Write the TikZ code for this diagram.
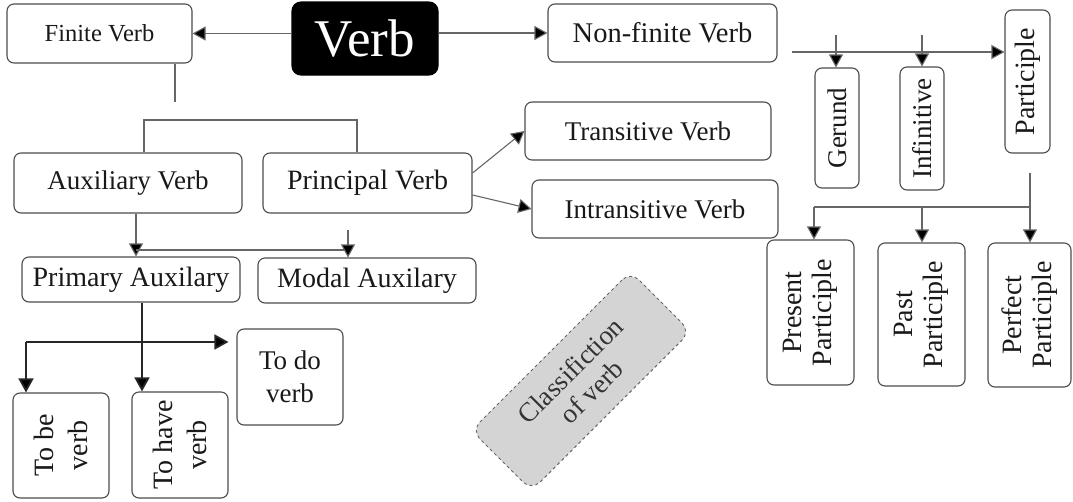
\documentclass[tikz,border=0pt]{standalone}
\usepackage{fontspec}
\setmainfont{Liberation Serif}
\usetikzlibrary{arrows.meta}
\begin{document}
\begin{tikzpicture}[x=1pt,y=-1pt,
  box/.style={draw=black!70, line width=1.1pt, rounded corners=7pt, fill=white, inner sep=0pt, align=center, text=black!90},
  vbox/.style={box, rotate=90},
  fa/.style={font=\fontsize{24.5}{28}\selectfont},
  fb/.style={font=\fontsize{27}{31}\selectfont},
  fe/.style={font=\fontsize{28.5}{32}\selectfont},
  fc/.style={font=\fontsize{28}{30}\selectfont},
  fd/.style={font=\fontsize{28}{34}\selectfont},
  ln/.style={draw=black!60, line width=1.1pt},
  arr/.style={ln, -{Triangle[length=13pt,width=14pt,fill=black]}},
  arrb/.style={draw=black!85, line width=1.8pt, -{Triangle[length=14pt,width=15pt,fill=black]}}
]
\useasboundingbox (0,0) rectangle (1073,501);

% top row
\node[box, fa, minimum width=185, minimum height=59] (finite) at (99.5,33.5) {Finite Verb};
\node[box, fill=black, draw=black, text=white, rounded corners=9pt, font=\fontsize{53}{56}\selectfont, minimum width=146, minimum height=73] (verb) at (365,38.5) {Verb};
\node[box, fe, minimum width=229, minimum height=58] (nonfinite) at (662.5,33) {Non-finite Verb};

% middle left
\node[box, fb, minimum width=228, minimum height=60] (aux) at (128,183) {Auxiliary Verb};
\node[box, fc, minimum width=209, minimum height=60] (principal) at (367.5,183) {Principal Verb};
\node[box, fb, minimum width=246, minimum height=58] (transitive) at (648,131) {Transitive Verb};
\node[box, fb, minimum width=246, minimum height=58] (intransitive) at (655,209) {Intransitive Verb};
\node[box, fc, minimum width=218, minimum height=45] (primary) at (131,279.5) {Primary Auxilary};
\node[box, fc, minimum width=218, minimum height=45] (modal) at (367,280.5) {Modal Auxilary};

% bottom left
\node[box, font=\fontsize{27}{33}\selectfont, minimum width=106, minimum height=96] (todo) at (290,377) {To do\\verb};
\node[vbox, fd, minimum width=105, minimum height=96] (tobe) at (61,445.5) {To be\\verb};
\node[vbox, fd, minimum width=106, minimum height=96] (tohave) at (180,445) {To have\\verb};

% classification
\node[box, draw=black!60, dashed, line width=0.9pt, fill=black!17, rounded corners=12pt, rotate=45, text=black!80, font=\fontsize{27}{30}\selectfont, minimum width=225, minimum height=85] (classif) at (581,381) {Classifiction\\of verb};

% right side
\node[vbox, fb, minimum width=120, minimum height=44] (gerund) at (837,128) {Gerund};
\node[vbox, fb, minimum width=123, minimum height=44] (infinitive) at (922,128.5) {Infinitive};
\node[vbox, fc, minimum width=143, minimum height=45] (participle) at (1027.5,81.5) {Participle};
\node[vbox, fc, minimum width=145, minimum height=87] (present) at (810.5,312.5) {Present\\Participle};
\node[vbox, fc, minimum width=143, minimum height=87] (past) at (921.5,314.5) {Past\\Participle};
\node[vbox, fc, minimum width=144, minimum height=83] (perfect) at (1029.5,315) {Perfect\\Participle};

% connectors top
\draw[arr] (verb.west |- finite.east) -- (finite.east);
\draw[arr] (verb.east |- nonfinite.west) -- (nonfinite.west);

\coordinate (f1) at (175,102);
\draw[ln] (finite.south -| f1) -- (f1);

\coordinate (b1) at (144,120);
\coordinate (b2) at (357,120);
\draw[ln] (aux.north -| b1) -- (b1) -- (b2) -- (principal.north -| b2);

\draw[arr] ([yshift=10pt]principal.east) -- (transitive.west);
\draw[arr] ([yshift=-12pt]principal.east) -- (intransitive.west);

\coordinate (h1) at (136,250);
\coordinate (h2) at (348,250);
\coordinate (p1) at (348,230);
\draw[arr] (aux.south -| h1) -- (primary.north -| h1);
\draw[ln] (h1) -- (h2);
\draw[arr] (p1) -- (modal.north -| p1);

% bottom left
\coordinate (k1) at (142,300);
\draw[arrb] (primary.south -| k1) -- (tohave.east -| k1);
\coordinate (l1) at (26,342);
\draw[arrb, shorten >=8pt] (l1) -- (todo.west |- l1);
\draw[arrb] (l1) -- (tobe.east -| l1);

% right side connectors
\coordinate (n1) at (792,52);
\draw[arr] (n1) -- (participle.north |- n1);
\coordinate (g1) at (836,35);
\draw[arr] (g1) -- (gerund.east -| g1);
\coordinate (i1) at (922,35);
\draw[arr] (i1) -- (infinitive.east -| i1);

\coordinate (q1) at (1030,173);
\draw[arr] (q1) -- (perfect.east -| q1);
\coordinate (r1) at (814,207);
\coordinate (r2) at (1030,207);
\coordinate (r3) at (922,207);
\draw[ln] (r1) -- (r2);
\draw[arr] (r1) -- (present.east -| r1);
\draw[arr] (r3) -- (past.east -| r3);
\end{tikzpicture}
\end{document}
